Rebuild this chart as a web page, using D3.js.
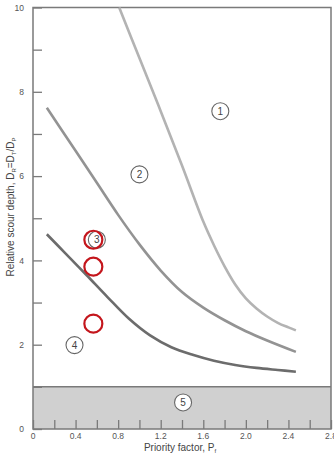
<!DOCTYPE html>
<html><head><meta charset="utf-8">
<script src="https://cdn.jsdelivr.net/npm/d3@7/dist/d3.min.js"></script>
<style>body{margin:0;background:#fff}svg{display:block}text{font-family:"Liberation Sans",Arial,sans-serif}</style>
</head><body>
<svg id="c" width="334" height="463"></svg>
<script>
const xTicks = [0, 0.4, 0.8, 1.2, 1.6, 2.0, 2.4, 2.8];
const xTickLabels = ["0", "0.4", "0.8", "1.2", "1.6", "2.0", "2.4", "2.8"];
const yTicks = [0, 2, 4, 6, 8, 10];
const curve1 = [[0.81,10],[1.0,8.8],[1.2,7.54],[1.4,6.25],[1.6,4.92],[1.7,4.36],[1.8,3.86],[1.9,3.43],[2.0,3.1],[2.1,2.86],[2.2,2.67],[2.3,2.52],[2.4,2.41],[2.47,2.34]];
const curve2 = [[0.13,7.62],[0.4,6.6],[0.6,5.84],[0.8,5.08],[1.0,4.38],[1.2,3.76],[1.4,3.25],[1.6,2.88],[1.8,2.58],[2.0,2.32],[2.2,2.1],[2.47,1.83]];
const curve3 = [[0.13,4.62],[0.3,4.18],[0.5,3.66],[0.7,3.13],[0.9,2.62],[1.1,2.22],[1.3,1.94],[1.5,1.76],[1.7,1.62],[1.9,1.52],[2.1,1.45],[2.3,1.4],[2.47,1.36]];
const zoneLabels = [{t:"1",x:1.76,y:7.54},{t:"2",x:1.0,y:6.04},{t:"3",x:0.6,y:4.49},{t:"4",x:0.39,y:1.99},{t:"5",x:1.41,y:0.63}];
const redPoints = [[0.567,4.49],[0.567,3.85],[0.567,2.5]];
const bandTop = 1;

const svg = d3.select("#c");
const x = d3.scaleLinear().domain([0,2.8]).range([33,331]);
const y = d3.scaleLinear().domain([0,10]).range([429,7.5]);
const axisCol = "#7a7a7a";

// gray band
svg.append("rect").attr("x",x(0)).attr("y",y(bandTop)).attr("width",x(2.8)-x(0)).attr("height",y(0)-y(bandTop))
  .attr("fill","#d0d0d0");
svg.append("line").attr("x1",x(0)).attr("x2",x(2.8)).attr("y1",y(bandTop)).attr("y2",y(bandTop)).attr("stroke",axisCol).attr("stroke-width",1.5);

// frame
svg.append("rect").attr("x",x(0)).attr("y",y(10)).attr("width",x(2.8)-x(0)).attr("height",y(0)-y(10))
  .attr("fill","none").attr("stroke",axisCol).attr("stroke-width",1.5);

// y axis
const ya = svg.append("g").attr("transform",`translate(${x(0)},0)`)
  .call(d3.axisRight(y).tickValues(d3.range(0,11,1)).tickSize(9).tickFormat(d => yTicks.includes(d) ? d : ""));
ya.select(".domain").remove();
ya.selectAll(".tick line").attr("stroke",axisCol).attr("stroke-width",1.3);
ya.selectAll(".tick text").attr("x",-9).attr("text-anchor","end").attr("fill","#555").attr("font-size",8.5);

// x axis
const xa = svg.append("g").attr("transform",`translate(0,${y(0)})`)
  .call(d3.axisTop(x).tickValues(d3.range(0,2.81,0.2)).tickSize(9).tickFormat(""));
xa.select(".domain").remove();
xa.selectAll(".tick line").attr("stroke",axisCol).attr("stroke-width",1.3);
svg.append("g").selectAll("text").data(xTicks).join("text")
  .attr("x",d=>x(d)).attr("y",y(0)+9.5).attr("text-anchor","middle").attr("fill","#555").attr("font-size",8.5)
  .text((d,i)=>xTickLabels[i]);

// curves
const line = d3.line().x(d=>x(d[0])).y(d=>y(d[1])).curve(d3.curveCatmullRom.alpha(0.5));
[[curve1,"#b3b3b3"],[curve2,"#939393"],[curve3,"#6c6c6c"]].forEach(([c,col])=>{
  svg.append("path").attr("d",line(c)).attr("fill","none").attr("stroke",col).attr("stroke-width",2.6);
});

// zone labels
zoneLabels.forEach(z=>{
  svg.append("circle").attr("cx",x(z.x)).attr("cy",y(z.y)).attr("r",8.5).attr("fill","#fff").attr("stroke","#666").attr("stroke-width",1.1);
  svg.append("text").attr("x",x(z.x)).attr("y",y(z.y)+3.5).attr("text-anchor","middle").attr("font-size",10).attr("fill","#444").text(z.t);
});

// red circles
svg.append("g").selectAll("circle").data(redPoints).join("circle")
  .attr("cx",d=>x(d[0])).attr("cy",d=>y(d[1])).attr("r",9).attr("fill","none").attr("stroke","#c4161c").attr("stroke-width",2.2);

// titles
svg.append("text").attr("transform",`translate(14,207) rotate(-90)`).attr("text-anchor","middle").attr("font-size",10).attr("fill","#444")
  .html('Relative scour depth, D<tspan font-size="6" dy="2">R</tspan><tspan dy="-2">=D</tspan><tspan font-size="6" dy="2">T</tspan><tspan dy="-2">/D</tspan><tspan font-size="6" dy="2">P</tspan>');
svg.append("text").attr("x",180).attr("y",450.5).attr("text-anchor","middle").attr("font-size",10).attr("fill","#444")
  .html('Priority factor, P<tspan font-size="6" dy="2">f</tspan>');
</script>
</body></html>
